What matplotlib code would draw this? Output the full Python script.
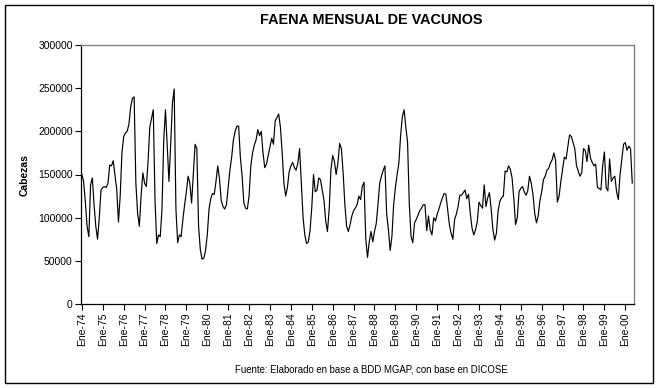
import matplotlib
matplotlib.use("Agg")
import matplotlib.pyplot as plt
from matplotlib.patches import Rectangle
import numpy as np

plt.rcParams['font.family'] = ['Liberation Sans', 'DejaVu Sans']

# Monthly cattle slaughter (heads), Jan 1974 - May 2000 (thousands)
y1974 = [150, 142, 118, 90, 78, 138, 146, 115, 90, 75, 100, 132]
y1975 = [135, 136, 135, 140, 161, 160, 166, 150, 133, 95, 125, 175]
y1976 = [194, 198, 200, 208, 228, 238, 240, 140, 105, 90, 125, 152]
y1977 = [140, 136, 165, 205, 215, 225, 120, 70, 80, 78, 110, 190]
y1978 = [225, 183, 142, 185, 233, 249, 110, 71, 80, 78, 98, 115]
y1979 = [130, 148, 140, 117, 150, 185, 180, 90, 63, 52, 53, 62]
y1980 = [80, 110, 122, 128, 127, 142, 160, 145, 120, 113, 110, 115]
y1981 = [135, 155, 170, 190, 200, 206, 206, 170, 148, 117, 111, 110]
y1982 = [125, 160, 175, 184, 190, 202, 195, 200, 175, 158, 162, 172]
y1983 = [182, 192, 185, 212, 216, 220, 205, 175, 140, 125, 135, 153]
y1984 = [160, 164, 158, 155, 163, 180, 140, 100, 80, 70, 72, 85]
y1985 = [112, 150, 130, 132, 146, 144, 132, 120, 96, 84, 110, 156]
y1986 = [172, 165, 150, 163, 186, 180, 152, 115, 90, 84, 92, 102]
y1987 = [108, 111, 115, 125, 121, 136, 141, 75, 54, 72, 84, 72]
y1988 = [84, 93, 115, 140, 148, 155, 160, 104, 86, 62, 78, 115]
y1989 = [135, 150, 163, 195, 217, 225, 205, 187, 115, 78, 71, 94]
y1990 = [98, 103, 108, 111, 115, 115, 85, 102, 86, 80, 100, 96]
y1991 = [104, 110, 117, 123, 128, 127, 110, 92, 82, 75, 98, 104]
y1992 = [113, 126, 126, 129, 132, 122, 127, 105, 88, 80, 86, 95]
y1993 = [118, 114, 111, 138, 113, 123, 129, 110, 86, 74, 82, 108]
y1994 = [119, 123, 125, 154, 153, 160, 156, 146, 122, 92, 100, 130]
y1995 = [134, 136, 130, 126, 131, 148, 140, 127, 105, 94, 102, 120]
y1996 = [130, 144, 148, 155, 157, 163, 167, 175, 166, 118, 125, 142]
y1997 = [156, 170, 168, 182, 196, 194, 187, 180, 160, 154, 148, 152]
y1998 = [180, 178, 165, 184, 169, 164, 160, 162, 135, 134, 132, 160]
y1999 = [176, 135, 131, 168, 142, 146, 148, 130, 121, 150, 167, 185]
y2000 = [187, 178, 183, 180, 140]

years = [y1974, y1975, y1976, y1977, y1978, y1979, y1980, y1981, y1982, y1983,
         y1984, y1985, y1986, y1987, y1988, y1989, y1990, y1991, y1992, y1993,
         y1994, y1995, y1996, y1997, y1998, y1999, y2000]
values = np.array([v for yr in years for v in yr], dtype=float) * 1000

tick_labels = ["Ene-%02d" % (y % 100) for y in range(1974, 2001)]
title = "FAENA MENSUAL DE VACUNOS"
ylabel = "Cabezas"
source = "Fuente: Elaborado en base a BDD MGAP, con base en DICOSE"

W, H = 662, 388
fig = plt.figure(figsize=(W / 100, H / 100), dpi=100)

# outer chart frame
fig.patches.append(Rectangle((5 / W, 1 - 383 / H), 648 / W, 378 / H,
                             transform=fig.transFigure, fill=False,
                             edgecolor='black', linewidth=1.0))

ax = fig.add_axes([81 / W, 1 - 304 / H, (634 - 81) / W, (304 - 45) / H])
x = np.arange(len(values))
ax.plot(x, values, color='black', linewidth=0.85)

ax.set_xlim(-0.5, 317)
ax.set_ylim(0, 300000)
ax.set_yticks(np.arange(0, 300001, 50000))
ax.set_yticklabels([str(v) for v in range(0, 300001, 50000)], fontsize=7.5)
ax.set_xticks(np.arange(0, len(tick_labels) * 12, 12))
ax.set_xticklabels(tick_labels, rotation=90, fontsize=7.5)
ax.tick_params(axis='both', direction='out', length=4, width=0.8, color='black', pad=2)

for s in ['top', 'right']:
    ax.spines[s].set_color('#808080')
    ax.spines[s].set_linewidth(1.0)
for s in ['left', 'bottom']:
    ax.spines[s].set_color('black')
    ax.spines[s].set_linewidth(0.9)

fig.text(371 / W, 1 - 20 / H, title, ha='center', va='center', fontsize=10.4, fontweight='bold')
fig.text(25 / W, 1 - 175 / H, ylabel, ha='center', va='center', rotation=90,
         fontsize=7.5, fontweight='bold')
fig.text(371 / W, 1 - 369 / H, source, ha='center', va='center', fontsize=6.9)

fig.savefig("out.png", dpi=100)
